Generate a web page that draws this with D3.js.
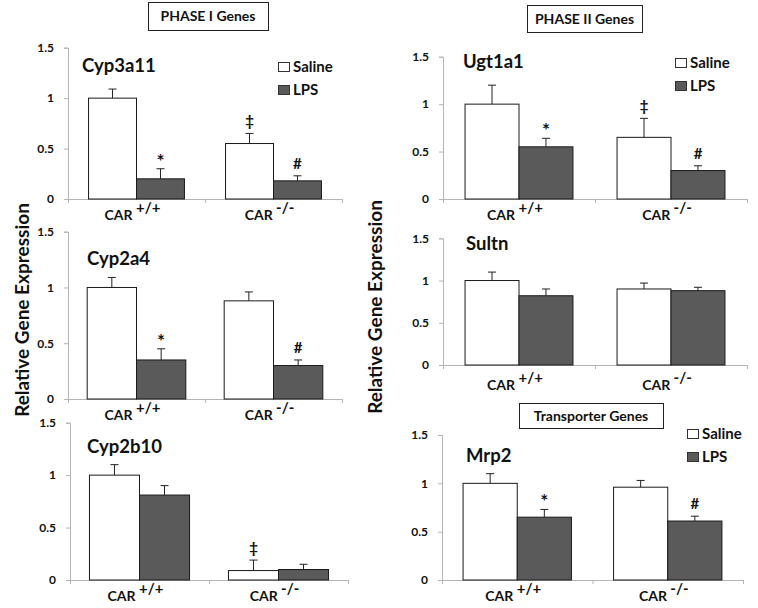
<!DOCTYPE html>
<html>
<head>
<meta charset="utf-8">
<script src="https://cdn.jsdelivr.net/npm/d3@7"></script>
<style>
  html, body { margin: 0; padding: 0; background: #fff; }
  svg text { font-family: Lato, "Open Sans", sans-serif; font-weight: bold; fill: #111; }
</style>
</head>
<body>
<svg id="chart" width="758" height="608"></svg>
<script>
// ---------------- data ----------------
const genes = ["Cyp3a11", "Cyp2a4", "Cyp2b10", "Ugt1a1", "Sultn", "Mrp2"];
const genotypes = ["+/+", "-/-"];
const seriesNames = ["Saline", "LPS"];
const yTicks = [0, 0.5, 1, 1.5];
const yTickLabels = ["0", "0.5", "1", "1.5"];

const salineMean = [[1.00, 0.55], [1.00, 0.88], [1.00, 0.09], [1.00, 0.65], [1.00, 0.90], [1.00, 0.96]];
const salineErr  = [[0.09, 0.10], [0.09, 0.08], [0.10, 0.10], [0.20, 0.20], [0.10, 0.07], [0.10, 0.07]];
const lpsMean    = [[0.20, 0.18], [0.35, 0.30], [0.81, 0.10], [0.55, 0.30], [0.82, 0.88], [0.65, 0.61]];
const lpsErr     = [[0.10, 0.05], [0.10, 0.05], [0.09, 0.05], [0.09, 0.05], [0.08, 0.04], [0.08, 0.05]];
const salineMarks = [["", "‡"], ["", ""], ["", "‡"], ["", "‡"], ["", ""], ["", ""]];
const lpsMarks    = [["*", "#"], ["*", "#"], ["", ""], ["*", "#"], ["", ""], ["*", "#"]];

const sectionTitles = ["PHASE I Genes", "PHASE II Genes", "Transporter Genes"];
const yAxisTitle = "Relative Gene Expression";

// ---------------- layout ----------------
const panels = [
  {x0: 68,  x1: 342, yTop: 47.7,  yBot: 199, pad: 0.30, titleX: 82,  titleY: 72,  xLab: 21, legend: {x: 278, y: 62}},
  {x0: 68,  x1: 342, yTop: 231.7, yBot: 399, pad: 0.28, titleX: 87,  titleY: 265, xLab: 21},
  {x0: 70,  x1: 348, yTop: 422.7, yBot: 580, pad: 0.28, titleX: 87,  titleY: 453, xLab: 21},
  {x0: 443, x1: 747, yTop: 56.7,  yBot: 199, pad: 0.29, titleX: 463, titleY: 68,  xLab: 21, legend: {x: 675, y: 58}},
  {x0: 443, x1: 747, yTop: 238.3, yBot: 365, pad: 0.29, titleX: 466, titleY: 250, xLab: 25},
  {x0: 442, x1: 743, yTop: 435,   yBot: 580, pad: 0.28, titleX: 466, titleY: 462, xLab: 21, legend: {x: 687, y: 429}}
];
const sectionBoxes = [
  {x: 148, y: 2,   w: 120, h: 28},
  {x: 527, y: 5,   w: 115, h: 27},
  {x: 519, y: 403, w: 144, h: 25}
];
const fills = ["#ffffff", "#5a5a5a"];
const axisColor = "#b4b4b4";

const svg = d3.select("#chart");

panels.forEach((p, gi) => {
  const g = svg.append("g");
  const y = d3.scaleLinear().domain([0, 1.5]).range([p.yBot, p.yTop]);
  const x0 = d3.scaleBand().domain(genotypes).range([p.x0, p.x1])
    .paddingInner(p.pad).paddingOuter(p.pad / 2);
  const x1 = d3.scaleBand().domain(seriesNames).range([0, x0.bandwidth()]);

  // y axis
  const yAxis = d3.axisLeft(y).tickValues(yTicks)
    .tickFormat((d, i) => yTickLabels[i]).tickSize(4).tickPadding(10);
  const ya = g.append("g").attr("transform", `translate(${p.x0},0)`).call(yAxis);
  ya.select(".domain").attr("stroke", axisColor);
  ya.selectAll(".tick line").attr("stroke", axisColor);
  ya.selectAll(".tick text").style("font-size", "12px").attr("fill", "#111");

  // x axis (category separator ticks)
  const xs = d3.scaleLinear().domain([0, 2]).range([p.x0, p.x1]);
  const xAxis = d3.axisBottom(xs).tickValues([0, 1, 2]).tickFormat("").tickSize(4).tickSizeOuter(0);
  const xa = g.append("g").attr("transform", `translate(0,${p.yBot})`).call(xAxis);
  xa.select(".domain").attr("stroke", axisColor);
  xa.selectAll(".tick line").attr("stroke", axisColor);

  // bars
  const rows = [];
  genotypes.forEach((gt, k) => {
    rows.push({gt, s: "Saline", v: salineMean[gi][k], e: salineErr[gi][k], m: salineMarks[gi][k], f: fills[0]});
    rows.push({gt, s: "LPS", v: lpsMean[gi][k], e: lpsErr[gi][k], m: lpsMarks[gi][k], f: fills[1]});
  });
  const bx = d => x0(d.gt) + x1(d.s);
  const cx = d => bx(d) + x1.bandwidth() / 2;

  // error bars (upward only)
  g.selectAll("line.err").data(rows).join("line")
    .attr("x1", cx).attr("x2", cx)
    .attr("y1", d => y(d.v)).attr("y2", d => y(d.v + d.e))
    .attr("stroke", "#222").attr("stroke-width", 1);
  g.selectAll("line.cap").data(rows).join("line")
    .attr("x1", d => cx(d) - 4).attr("x2", d => cx(d) + 4)
    .attr("y1", d => y(d.v + d.e)).attr("y2", d => y(d.v + d.e))
    .attr("stroke", "#222").attr("stroke-width", 1);

  g.selectAll("rect.bar").data(rows).join("rect")
    .attr("x", bx).attr("width", x1.bandwidth())
    .attr("y", d => y(d.v)).attr("height", d => y(0) - y(d.v))
    .attr("fill", d => d.f).attr("stroke", "#1a1a1a").attr("stroke-width", 1);

  // significance markers
  g.selectAll("text.mark").data(rows.filter(d => d.m)).join("text")
    .attr("x", cx).attr("y", d => y(d.v + d.e) - (d.m === "*" ? 1 : 7))
    .attr("text-anchor", "middle").style("font-size", d => d.m === "*" ? "19px" : "15px")
    .text(d => d.m);

  // gene title
  g.append("text").attr("x", p.titleX).attr("y", p.titleY)
    .style("font-size", "18.5px").text(genes[gi]);

  // x labels
  genotypes.forEach(gt => {
    const t = g.append("text")
      .attr("x", x0(gt) + x0.bandwidth() / 2 - 4).attr("y", p.yBot + p.xLab)
      .attr("text-anchor", "middle").style("font-size", "14px");
    t.append("tspan").text("CAR ");
    t.append("tspan").attr("dy", -7).style("font-size", "15px").text(gt);
  });

  // legend
  if (p.legend) {
    seriesNames.forEach((s, k) => {
      const ly = p.legend.y + k * 23;
      g.append("rect").attr("x", p.legend.x + 0.5).attr("y", ly + 0.5)
        .attr("width", 11).attr("height", 9)
        .attr("fill", fills[k]).attr("stroke", "#333").attr("stroke-width", 1);
      g.append("text").attr("x", p.legend.x + 15).attr("y", ly + 10)
        .style("font-size", "15px").text(s);
    });
  }
});

// section boxes
sectionBoxes.forEach((b, i) => {
  svg.append("rect").attr("x", b.x + 0.5).attr("y", b.y + 0.5)
    .attr("width", b.w).attr("height", b.h)
    .attr("fill", "#fff").attr("stroke", "#222").attr("stroke-width", 1);
  svg.append("text").attr("x", b.x + b.w / 2).attr("y", b.y + b.h / 2 + 5)
    .attr("text-anchor", "middle").style("font-size", "14px").text(sectionTitles[i]);
});

// y axis titles
[{x: 29, y: 310}, {x: 382, y: 307}].forEach(pos => {
  svg.append("text")
    .attr("transform", `translate(${pos.x},${pos.y}) rotate(-90)`)
    .attr("text-anchor", "middle").style("font-size", "19px").text(yAxisTitle);
});
</script>
</body>
</html>
